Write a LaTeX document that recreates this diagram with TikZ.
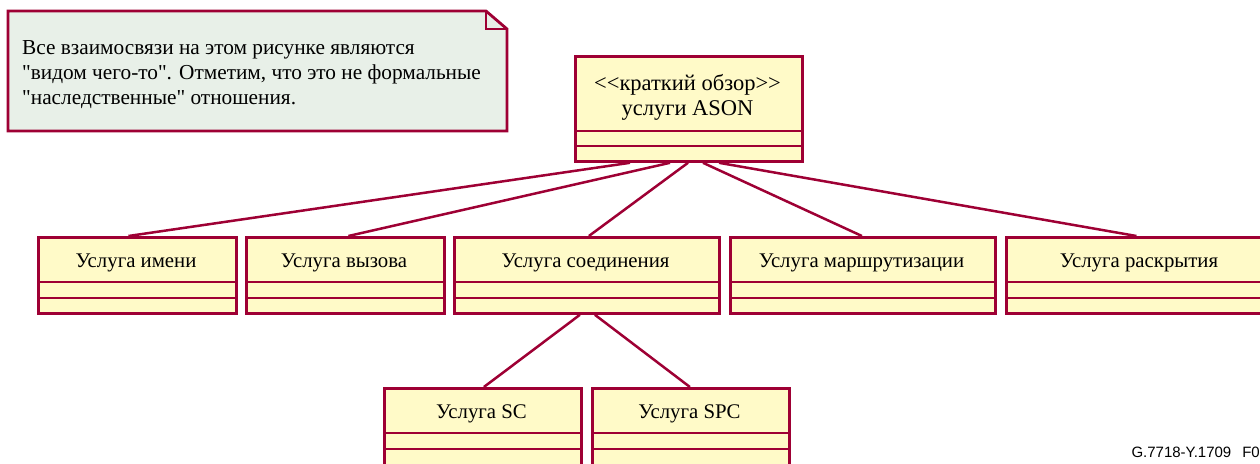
\documentclass[tikz,border=0pt]{standalone}
\usepackage{fontspec}
\setmainfont{Liberation Serif}
\newfontfamily\labelfont{Liberation Sans}
\usetikzlibrary{calc}
\definecolor{umlline}{RGB}{158,0,52}
\definecolor{umlfill}{RGB}{255,250,200}
\definecolor{notefill}{RGB}{232,240,232}
\tikzset{
  x=1pt, y=-1pt,
  umlbox/.style={draw=umlline, fill=umlfill, line width=2.8pt, rectangle, inner sep=0pt, anchor=north west},
  umltext/.style={font=\fontsize{20.8}{24}\selectfont, inner sep=0pt},
  divider/.style={draw=umlline, line width=2.8pt},
  link/.style={draw=umlline, line width=2.5pt},
}
% class box: name, left, top, width, height, title height, first compartment height, title text
\newcommand\classbox[8]{%
  \node[umlbox, minimum width=#4pt, minimum height=#5pt] (#1) at (#2,#3) {};
  \node[umltext] (#1-title) at ($(#1.north west)+(#4/2,#6/2+4)$) {#8};
  \draw[divider] ($(#1.north west)+(0,#6)$) -- ($(#1.north east)+(0,#6)$);
  \draw[divider] ($(#1.north west)+(0,#6+#7)$) -- ($(#1.north east)+(0,#6+#7)$);
}
\begin{document}
\begin{tikzpicture}
\useasboundingbox (0,0) rectangle (1260,463);
\clip (0,0) rectangle (1260,463);

% comment note with folded corner
\draw[draw=umlline, fill=notefill, line width=2.8pt, line join=miter]
  (8,11) -- (486,11) -- (507,29) -- (507,131) -- (8,131) -- cycle;
\draw[draw=umlline, line width=2.8pt] (486,11) -- (486,29) -- (507,29);
\node[anchor=north west, align=left, inner sep=0pt,
      font=\fontsize{21.3}{25}\selectfont] (note) at (22,40)
  {Все взаимосвязи на этом рисунке являются\\
   \textquotedbl видом чего-то\textquotedbl. Отметим, что это не формальные\\
   \textquotedbl наследственные\textquotedbl\ отношения.};

% overview class
\node[umlbox, minimum width=227pt, minimum height=105pt] (ason) at (574,55) {};
\node[font=\fontsize{22.5}{25}\selectfont, align=center, inner sep=0pt] (ason-title)
  at ($(ason.north west)+(113.5,42)$)
  {\textless\kern0pt\textless\kern0pt краткий обзор\kern0pt\textgreater\kern0pt\textgreater\\услуги ASON};
\draw[divider] ($(ason.north west)+(0,76)$) -- ($(ason.north east)+(0,76)$);
\draw[divider] ($(ason.north west)+(0,91)$) -- ($(ason.north east)+(0,91)$);

% service classes
\classbox{name}{37}{236}{198}{76}{46}{16}{Услуга имени}
\classbox{call}{245}{236}{198}{76}{46}{16}{Услуга вызова}
\classbox{conn}{453}{236}{265}{76}{46}{16}{Услуга соединения}
\classbox{route}{729}{236}{265}{76}{46}{16}{Услуга маршрутизации}
\classbox{disc}{1005}{236}{268}{76}{46}{16}{Услуга раскрытия}
\classbox{sc}{383}{387}{197}{78}{46}{16}{Услуга SC}
\classbox{spc}{591}{387}{197}{78}{46}{16}{Услуга SPC}

% associations
\draw[link] ($(ason.south west)+(56,0)$) -- ($(name.north)+(-9,0)$);
\draw[link] ($(ason.south west)+(96,0)$) -- ($(call.north)+(3,0)$);
\draw[link] ($(ason.south west)+(114,0)$) -- ($(conn.north)+(2,0)$);
\draw[link] ($(ason.south west)+(129,0)$) -- ($(route.north)+(-1,0)$);
\draw[link] ($(ason.south west)+(145,0)$) -- ($(disc.north)+(-4,0)$);
\draw[link] ($(conn.south)+(-7,0)$) -- ($(sc.north)+(1,0)$);
\draw[link] ($(conn.south)+(8,0)$) -- ($(spc.north)+(-1,0)$);

\node[anchor=base east, inner sep=0pt, font=\labelfont\fontsize{15}{17}\selectfont] (figid)
  at (1260,457) {G.7718-Y.1709\hspace{11pt}F0};
\end{tikzpicture}
\end{document}
